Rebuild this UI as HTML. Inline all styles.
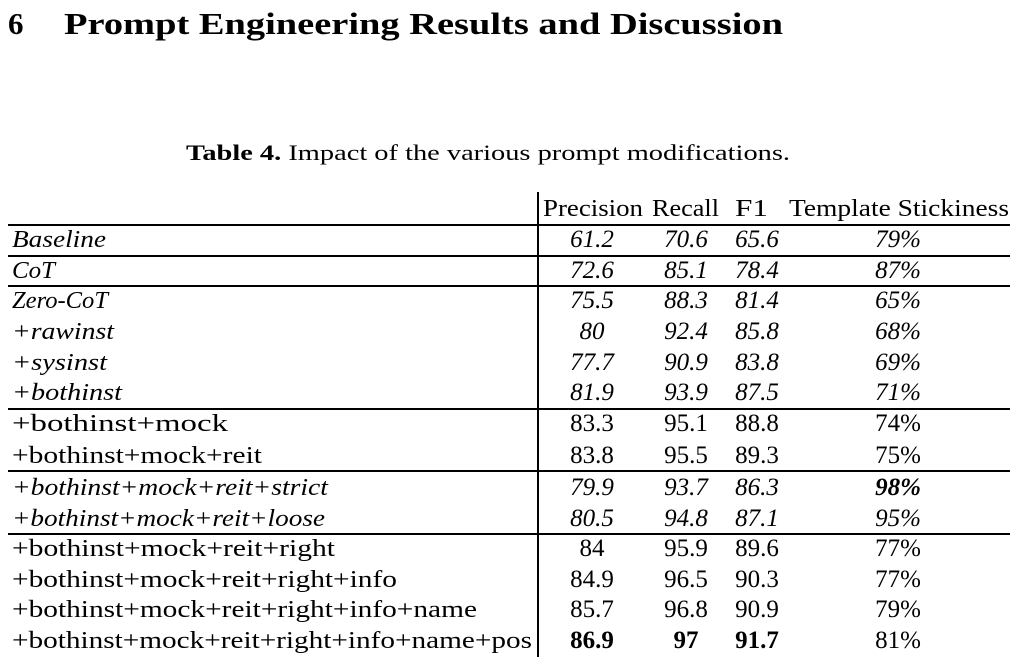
<!DOCTYPE html>
<html><head><meta charset="utf-8"><style>
html,body{margin:0;padding:0;background:#fff;width:1026px;height:664px;overflow:hidden}
svg{display:block}
text{font-family:"Liberation Serif",serif;fill:#000}
.i{font-style:italic}
.b{font-weight:bold}
</style></head><body>
<svg width="1026" height="664" viewBox="0 0 1026 664" xmlns="http://www.w3.org/2000/svg">
<text x="8" y="34" font-size="31" class="b">6</text>
<text x="64" y="34" font-size="31" class="b" textLength="719" lengthAdjust="spacingAndGlyphs">Prompt Engineering Results and Discussion</text>
<text x="186" y="160" font-size="22" textLength="604" lengthAdjust="spacingAndGlyphs"><tspan class="b">Table 4.</tspan> Impact of the various prompt modifications.</text>
<g stroke="#000" stroke-width="2">
<line x1="538" y1="192" x2="538" y2="657"/>
<line x1="8" y1="225" x2="1010" y2="225"/>
<line x1="8" y1="256" x2="1010" y2="256"/>
<line x1="8" y1="286" x2="1010" y2="286"/>
<line x1="8" y1="409" x2="1010" y2="409"/>
<line x1="8" y1="471" x2="1010" y2="471"/>
<line x1="8" y1="534" x2="1010" y2="534"/>
</g>
<g font-size="24">
<text x="543" y="216" textLength="100" lengthAdjust="spacingAndGlyphs">Precision</text>
<text x="652" y="216" textLength="67" lengthAdjust="spacingAndGlyphs">Recall</text>
<text x="735" y="216" textLength="33" lengthAdjust="spacingAndGlyphs">F1</text>
<text x="789" y="216" textLength="220" lengthAdjust="spacingAndGlyphs">Template Stickiness</text>
</g>
<g font-size="24">
<text x="12" y="247" class="i" textLength="94" lengthAdjust="spacingAndGlyphs">Baseline</text>
<text x="12" y="278" class="i" textLength="43" lengthAdjust="spacingAndGlyphs">CoT</text>
<text x="12" y="308" class="i" textLength="96" lengthAdjust="spacingAndGlyphs">Zero-CoT</text>
<text x="12" y="339" class="i" textLength="102" lengthAdjust="spacingAndGlyphs">+rawinst</text>
<text x="12" y="370" class="i" textLength="95" lengthAdjust="spacingAndGlyphs">+sysinst</text>
<text x="12" y="400" class="i" textLength="110" lengthAdjust="spacingAndGlyphs">+bothinst</text>
<text x="12" y="431" textLength="216" lengthAdjust="spacingAndGlyphs">+bothinst+mock</text>
<text x="12" y="463" textLength="250" lengthAdjust="spacingAndGlyphs">+bothinst+mock+reit</text>
<text x="12" y="495" class="i" textLength="316" lengthAdjust="spacingAndGlyphs">+bothinst+mock+reit+strict</text>
<text x="12" y="526" class="i" textLength="313" lengthAdjust="spacingAndGlyphs">+bothinst+mock+reit+loose</text>
<text x="12" y="556" textLength="323" lengthAdjust="spacingAndGlyphs">+bothinst+mock+reit+right</text>
<text x="12" y="587" textLength="385" lengthAdjust="spacingAndGlyphs">+bothinst+mock+reit+right+info</text>
<text x="12" y="617" textLength="465" lengthAdjust="spacingAndGlyphs">+bothinst+mock+reit+right+info+name</text>
<text x="12" y="648" textLength="520" lengthAdjust="spacingAndGlyphs">+bothinst+mock+reit+right+info+name+pos</text>
</g>
<g font-size="25" text-anchor="middle">
<g class="i">
<text x="592" y="247">61.2</text><text x="686" y="247">70.6</text><text x="757" y="247">65.6</text><text x="898" y="247">79%</text>
<text x="592" y="278">72.6</text><text x="686" y="278">85.1</text><text x="757" y="278">78.4</text><text x="898" y="278">87%</text>
<text x="592" y="308">75.5</text><text x="686" y="308">88.3</text><text x="757" y="308">81.4</text><text x="898" y="308">65%</text>
<text x="592" y="339">80</text><text x="686" y="339">92.4</text><text x="757" y="339">85.8</text><text x="898" y="339">68%</text>
<text x="592" y="370">77.7</text><text x="686" y="370">90.9</text><text x="757" y="370">83.8</text><text x="898" y="370">69%</text>
<text x="592" y="400">81.9</text><text x="686" y="400">93.9</text><text x="757" y="400">87.5</text><text x="898" y="400">71%</text>
</g>
<text x="592" y="431">83.3</text><text x="686" y="431">95.1</text><text x="757" y="431">88.8</text><text x="898" y="431">74%</text>
<text x="592" y="463">83.8</text><text x="686" y="463">95.5</text><text x="757" y="463">89.3</text><text x="898" y="463">75%</text>
<g class="i">
<text x="592" y="495">79.9</text><text x="686" y="495">93.7</text><text x="757" y="495">86.3</text><text x="898" y="495" class="b">98%</text>
<text x="592" y="526">80.5</text><text x="686" y="526">94.8</text><text x="757" y="526">87.1</text><text x="898" y="526">95%</text>
</g>
<text x="592" y="556">84</text><text x="686" y="556">95.9</text><text x="757" y="556">89.6</text><text x="898" y="556">77%</text>
<text x="592" y="587">84.9</text><text x="686" y="587">96.5</text><text x="757" y="587">90.3</text><text x="898" y="587">77%</text>
<text x="592" y="617">85.7</text><text x="686" y="617">96.8</text><text x="757" y="617">90.9</text><text x="898" y="617">79%</text>
<g class="b">
<text x="592" y="648">86.9</text><text x="686" y="648">97</text><text x="757" y="648">91.7</text>
</g>
<text x="898" y="648">81%</text>
</g>
</svg>
</body></html>
